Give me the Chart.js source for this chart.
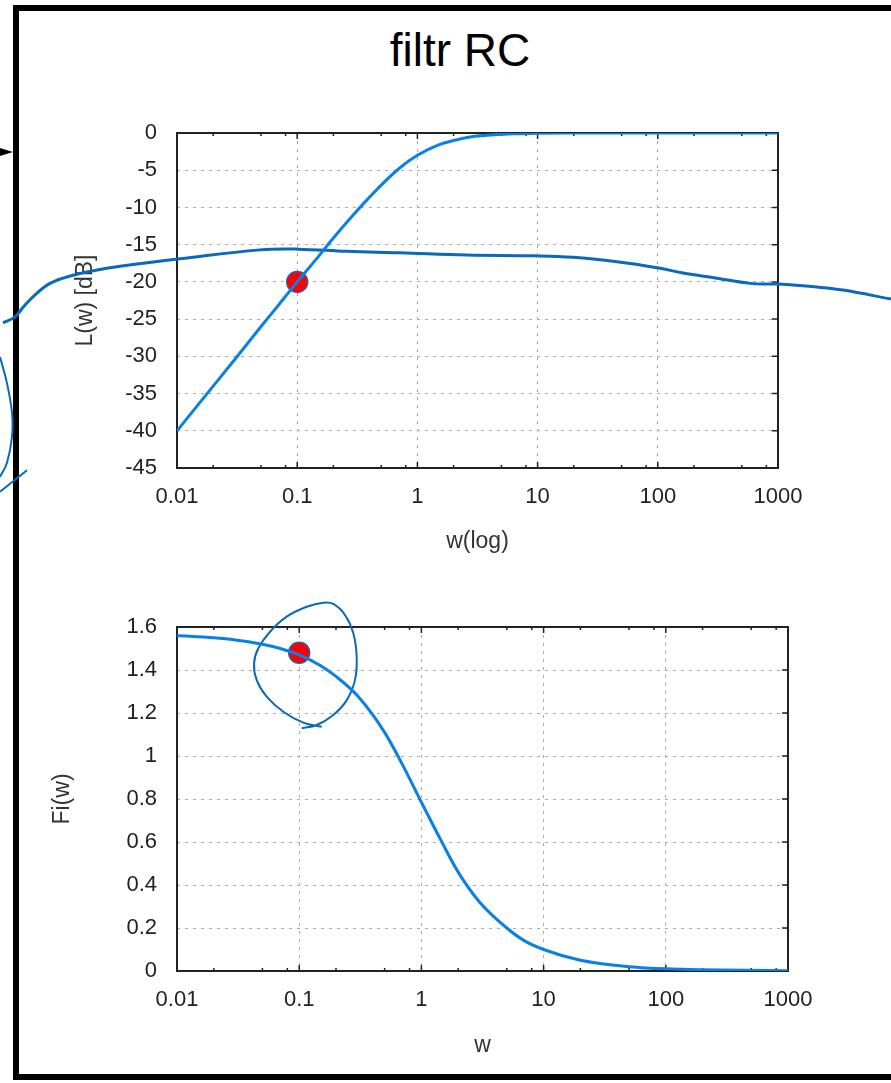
<!DOCTYPE html>
<html>
<head>
<meta charset="utf-8">
<script src="https://cdn.jsdelivr.net/npm/chart.js@4"></script>
<style>
  body { margin: 0; background: #fff; }
  #page { position: relative; width: 891px; height: 1083px; overflow: hidden; }
  #frame { position: absolute; left: 13px; top: 5px; width: 1000px; height: 1075px;
           border: 6px solid #000; box-sizing: border-box; }
  #arrow { position: absolute; left: 0; top: 148px; width: 0; height: 0;
           border-top: 4px solid transparent; border-bottom: 4px solid transparent;
           border-left: 13px solid #000; }
  #title { position: absolute; left: 0; width: 920px; top: 27px; text-align: center;
           font: 46px "Liberation Sans", Arial, sans-serif; line-height: 46px; color: #000; }
  canvas { position: absolute; left: 0; }
  #c1 { top: 0; }
  #c2 { top: 560px; }
</style>
</head>
<body>
<div id="page">
  <div id="frame"></div>
  <div id="arrow"></div>
  <div id="title">filtr RC</div>
  <canvas id="c1" width="891" height="560"></canvas>
  <canvas id="c2" width="891" height="523"></canvas>
</div>
<script>
// values
let w = [0.01, 0.02, 0.03, 0.05, 0.07, 0.1, 0.15, 0.2, 0.3, 0.5, 0.7, 1, 1.5, 2, 3, 5, 7, 10, 20, 50, 100, 1000];
let gainDb = [-40, -34, -30.5, -26, -23.1, -20, -16.6, -14.1, -10.8, -7, -4.8, -3, -1.6, -1, -0.45, -0.17, -0.09, -0.04, -0.01, 0, 0, 0];
let phase = [1.56, 1.55, 1.54, 1.52, 1.5, 1.47, 1.42, 1.37, 1.28, 1.11, 0.96, 0.785, 0.59, 0.46, 0.32, 0.2, 0.14, 0.1, 0.05, 0.02, 0.01, 0.001];

let xTicks = [0.01, 0.1, 1, 10, 100, 1000];
let xTickLabels = ['0.01', '0.1', '1', '10', '100', '1000'];
let minorSteps = [2, 5, 8];

let markTop = { x: 0.1, y: -20 };
let markBottom = { x: 0.1, y: 1.48 };

// hand drawn pen strokes (data coordinates of each chart), traced right to left
let penLineX = [8710, 3474, 2110, 1000, 585, 311, 162, 98.5, 45.8, 19.7, 9.16, 2.59, 0.716, 0.26, 0.1016, 0.0491, 0.0106, 0.00336, 0.00216, 0.001364, 0.000878, 0.000634, 0.000524, 0.000449, 0.000357];
let penLineY = [-22.3, -21.1, -20.7, -20.3, -20.2, -19.5, -18.8, -18.1, -17.3, -16.7, -16.5, -16.4, -16.1, -15.9, -15.6, -15.7, -16.9, -17.9, -18.4, -19.1, -20.2, -22.0, -23.4, -24.7, -25.5];
let penArcX = [0.000337, 0.000385, 0.000424, 0.000424, 0.000385, 0.000337];
let penArcY = [-30.1, -33.6, -37.6, -40.8, -44.3, -46.2];
let penTickX = [0.000565, 0.000337];
let penTickY = [-45.3, -48.2];
let penLoopX = [0.1048, 0.139, 0.19, 0.245, 0.286, 0.2954, 0.2772, 0.237, 0.19, 0.1575, 0.1152, 0.079, 0.0577, 0.0463, 0.0427, 0.0449, 0.0542, 0.0741, 0.108, 0.1528];
let penLoopY = [1.129, 1.144, 1.191, 1.26, 1.353, 1.462, 1.571, 1.656, 1.707, 1.713, 1.694, 1.648, 1.578, 1.501, 1.431, 1.353, 1.276, 1.206, 1.155, 1.136];

const curveColor = '#0a80e6';
const penColor = '#0b69b9';
const font = 'Liberation Sans';

function pts(xs, ys) { return xs.map((x, i) => ({ x: x, y: ys[i] })); }

function logTicks(scale) {
  let t = [];
  xTicks.forEach((d, i) => {
    t.push({ value: d, major: true });
    if (i < xTicks.length - 1) minorSteps.forEach(m => t.push({ value: d * m, major: false }));
  });
  scale.ticks = t;
}

// plot frame with inward tick marks
const frame = {
  id: 'frame',
  beforeDatasetsDraw(chart) {
    let ctx = chart.ctx, a = chart.chartArea, x = chart.scales.x, y = chart.scales.y;
    ctx.save();
    ctx.strokeStyle = '#222';
    ctx.lineWidth = 1.5;
    ctx.beginPath();
    x.ticks.forEach(t => {
      let px = x.getPixelForValue(t.value);
      let len = t.major ? 6 : 3;
      ctx.moveTo(px, a.bottom); ctx.lineTo(px, a.bottom - len);
      ctx.moveTo(px, a.top); ctx.lineTo(px, a.top + len);
    });
    y.ticks.forEach(t => {
      let py = y.getPixelForValue(t.value);
      ctx.moveTo(a.right, py); ctx.lineTo(a.right - 6, py);
    });
    ctx.stroke();
    ctx.lineWidth = 2;
    ctx.strokeRect(a.left, a.top, a.right - a.left, a.bottom - a.top);
    ctx.restore();
  }
};

function xScale(titleText, titlePad, height) {
  return {
    type: 'logarithmic',
    min: 0.01,
    max: 1000,
    afterBuildTicks: logTicks,
    afterFit: s => { s.height = height; },
    grid: {
      drawTicks: false,
      color: c => (c.tick && c.tick.major) ? '#aaa' : 'rgba(0,0,0,0)'
    },
    border: { display: false, dash: [3, 5] },
    ticks: {
      autoSkip: false,
      maxRotation: 0,
      padding: 16,
      color: '#222',
      font: { family: font, size: 22 },
      callback: (v) => {
        let i = xTicks.indexOf(v);
        return i >= 0 ? xTickLabels[i] : '';
      }
    },
    title: { display: true, text: titleText, color: '#333', font: { family: font, size: 23 }, padding: { bottom: titlePad } }
  };
}

function yScale(min, max, step, titleText, titlePad) {
  return {
    min: min,
    max: max,
    afterFit: s => { s.width = 177; },
    grid: { drawTicks: false, color: '#aaa' },
    border: { display: false, dash: [3, 5] },
    ticks: {
      stepSize: step,
      padding: 20,
      color: '#222',
      font: { family: font, size: 22 },
      callback: v => String(Number(v.toFixed(1)))
    },
    title: { display: true, text: titleText, color: '#333', font: { family: font, size: 23 }, padding: { top: titlePad } }
  };
}

function curve(data) {
  return { data: data, borderColor: curveColor, borderWidth: 3, pointRadius: 0, cubicInterpolationMode: 'monotone' };
}
function pen(data, width) {
  return { data: data, borderColor: penColor, borderWidth: width, pointRadius: 0, tension: 0.4, clip: false };
}
function marker(p) {
  return { data: [p], showLine: false, pointRadius: 10.5, pointBackgroundColor: '#ff0000',
           pointBorderColor: '#3d5a99', pointBorderWidth: 1.5, clip: false };
}

const common = {
  responsive: false,
  animation: false,
  plugins: { legend: { display: false }, tooltip: { enabled: false } }
};

new Chart(document.getElementById('c1'), {
  type: 'line',
  data: {
    datasets: [
      curve(pts(w, gainDb)),
      pen(pts(penLineX, penLineY), 3),
      pen(pts(penArcX, penArcY), 2),
      pen(pts(penTickX, penTickY), 2),
      marker(markTop)
    ]
  },
  options: Object.assign({}, common, {
    layout: { padding: { left: 0, right: 113, top: 133, bottom: 0 } },
    scales: {
      x: xScale('w(log)', 5, 92),
      y: yScale(-45, 0, 5, 'L(w) [dB]', 72)
    }
  }),
  plugins: [frame]
});

new Chart(document.getElementById('c2'), {
  type: 'line',
  data: {
    datasets: [
      curve(pts(w, phase)),
      pen(pts(penLoopX, penLoopY), 2),
      marker(markBottom)
    ]
  },
  options: Object.assign({}, common, {
    layout: { padding: { left: 0, right: 103, top: 67, bottom: 0 } },
    scales: {
      x: xScale('w', 24, 112),
      y: yScale(0, 1.6, 0.2, 'Fi(w)', 49)
    }
  }),
  plugins: [frame]
});
</script>
</body>
</html>
